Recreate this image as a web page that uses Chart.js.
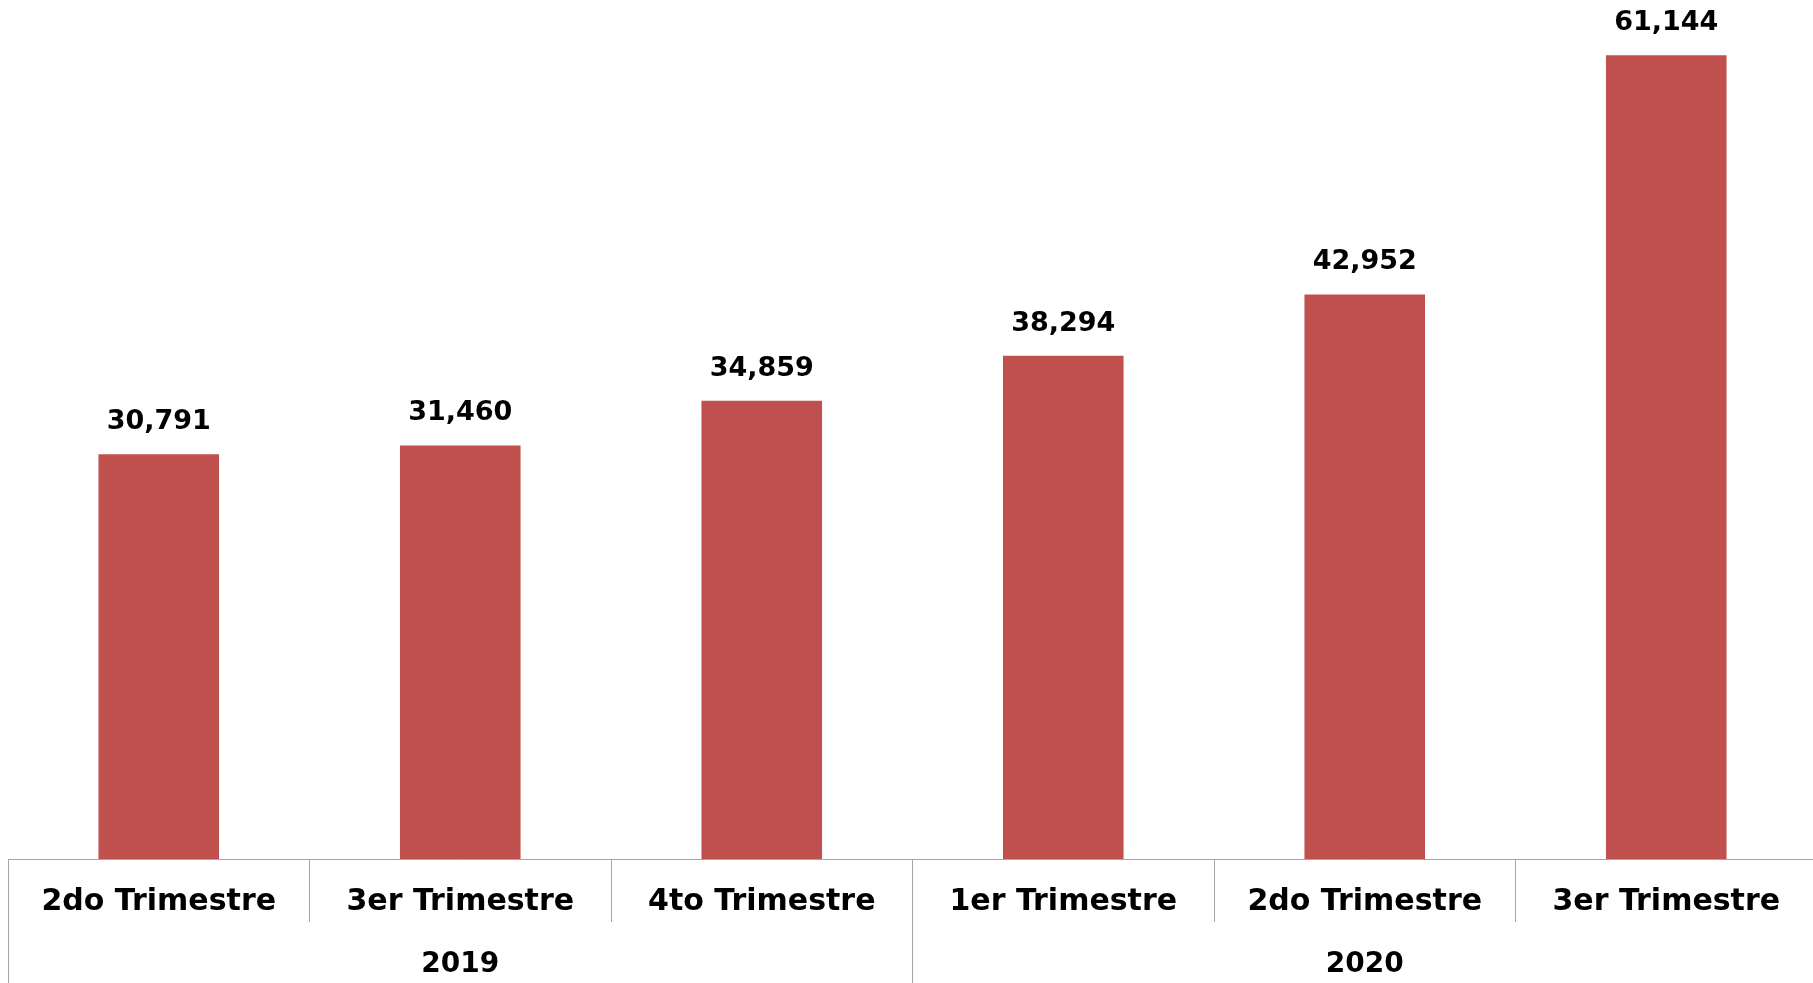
<!DOCTYPE html>
<html>
<head>
<meta charset="utf-8">
<script src="https://cdn.jsdelivr.net/npm/chart.js@4/dist/chart.umd.min.js"></script>
<style>
  html, body { margin: 0; padding: 0; background: #ffffff; overflow: hidden; }
  #wrap { position: absolute; left: 0; top: 0; width: 1817px; height: 983px; }
</style>
</head>
<body>
<div id="wrap"><canvas id="c"></canvas></div>
<script>
// ---- data ----
const quarters = ["2do Trimestre", "3er Trimestre", "4to Trimestre", "1er Trimestre", "2do Trimestre", "3er Trimestre"];
const years = ["2019", "2020"];
const values = [30791, 31460, 34859, 38294, 42952, 61144];

const FONT = "'DejaVu Sans', sans-serif";
const LINE = "#A6A6A6";

const valueLabels = {
  id: "valueLabels",
  afterDatasetsDraw(chart) {
    const ctx = chart.ctx;
    const meta = chart.getDatasetMeta(0);
    ctx.save();
    ctx.font = "bold 27px " + FONT;
    ctx.fillStyle = "#000";
    ctx.textAlign = "center";
    ctx.textBaseline = "alphabetic";
    meta.data.forEach((bar, i) => {
      ctx.fillText(values[i].toLocaleString("en-US"), bar.x, bar.y - 25);
    });
    ctx.restore();
  }
};

new Chart(document.getElementById("c"), {
  type: "bar",
  data: {
    labels: quarters,
    datasets: [{
      data: values,
      backgroundColor: "#C0504D",
      borderWidth: 0,
      barPercentage: 0.4,
      categoryPercentage: 1.0,
      xAxisID: "x",
      yAxisID: "y"
    }]
  },
  options: {
    responsive: true,
    maintainAspectRatio: false,
    animation: false,
    layout: { padding: { left: 8, right: 0, top: 0, bottom: 0 } },
    plugins: { legend: { display: false }, tooltip: { enabled: false } },
    scales: {
      y: { display: false, min: 0, max: 65350 },
      x: {
        type: "category",
        position: "bottom",
        weight: 0,
        offset: true,
        afterFit: (s) => { s.height = 63; },
        grid: { display: true, drawOnChartArea: false, offset: true, drawTicks: true, tickLength: 63, color: LINE, lineWidth: 1 },
        border: { display: true, color: LINE, width: 1 },
        ticks: { color: "#000", font: { family: FONT, size: 30, weight: "bold" }, padding: -38, autoSkip: false, maxRotation: 0 }
      },
      x2: {
        type: "category",
        position: "bottom",
        weight: 1,
        labels: years,
        offset: true,
        afterFit: (s) => { s.height = 61; },
        grid: { display: true, drawOnChartArea: false, offset: true, drawTicks: true, tickLength: 61, color: LINE, lineWidth: 1 },
        border: { display: false },
        ticks: { color: "#000", font: { family: FONT, size: 28, weight: "bold" }, padding: -35.5, autoSkip: false, maxRotation: 0 }
      }
    }
  },
  plugins: [valueLabels]
});
</script>
</body>
</html>
